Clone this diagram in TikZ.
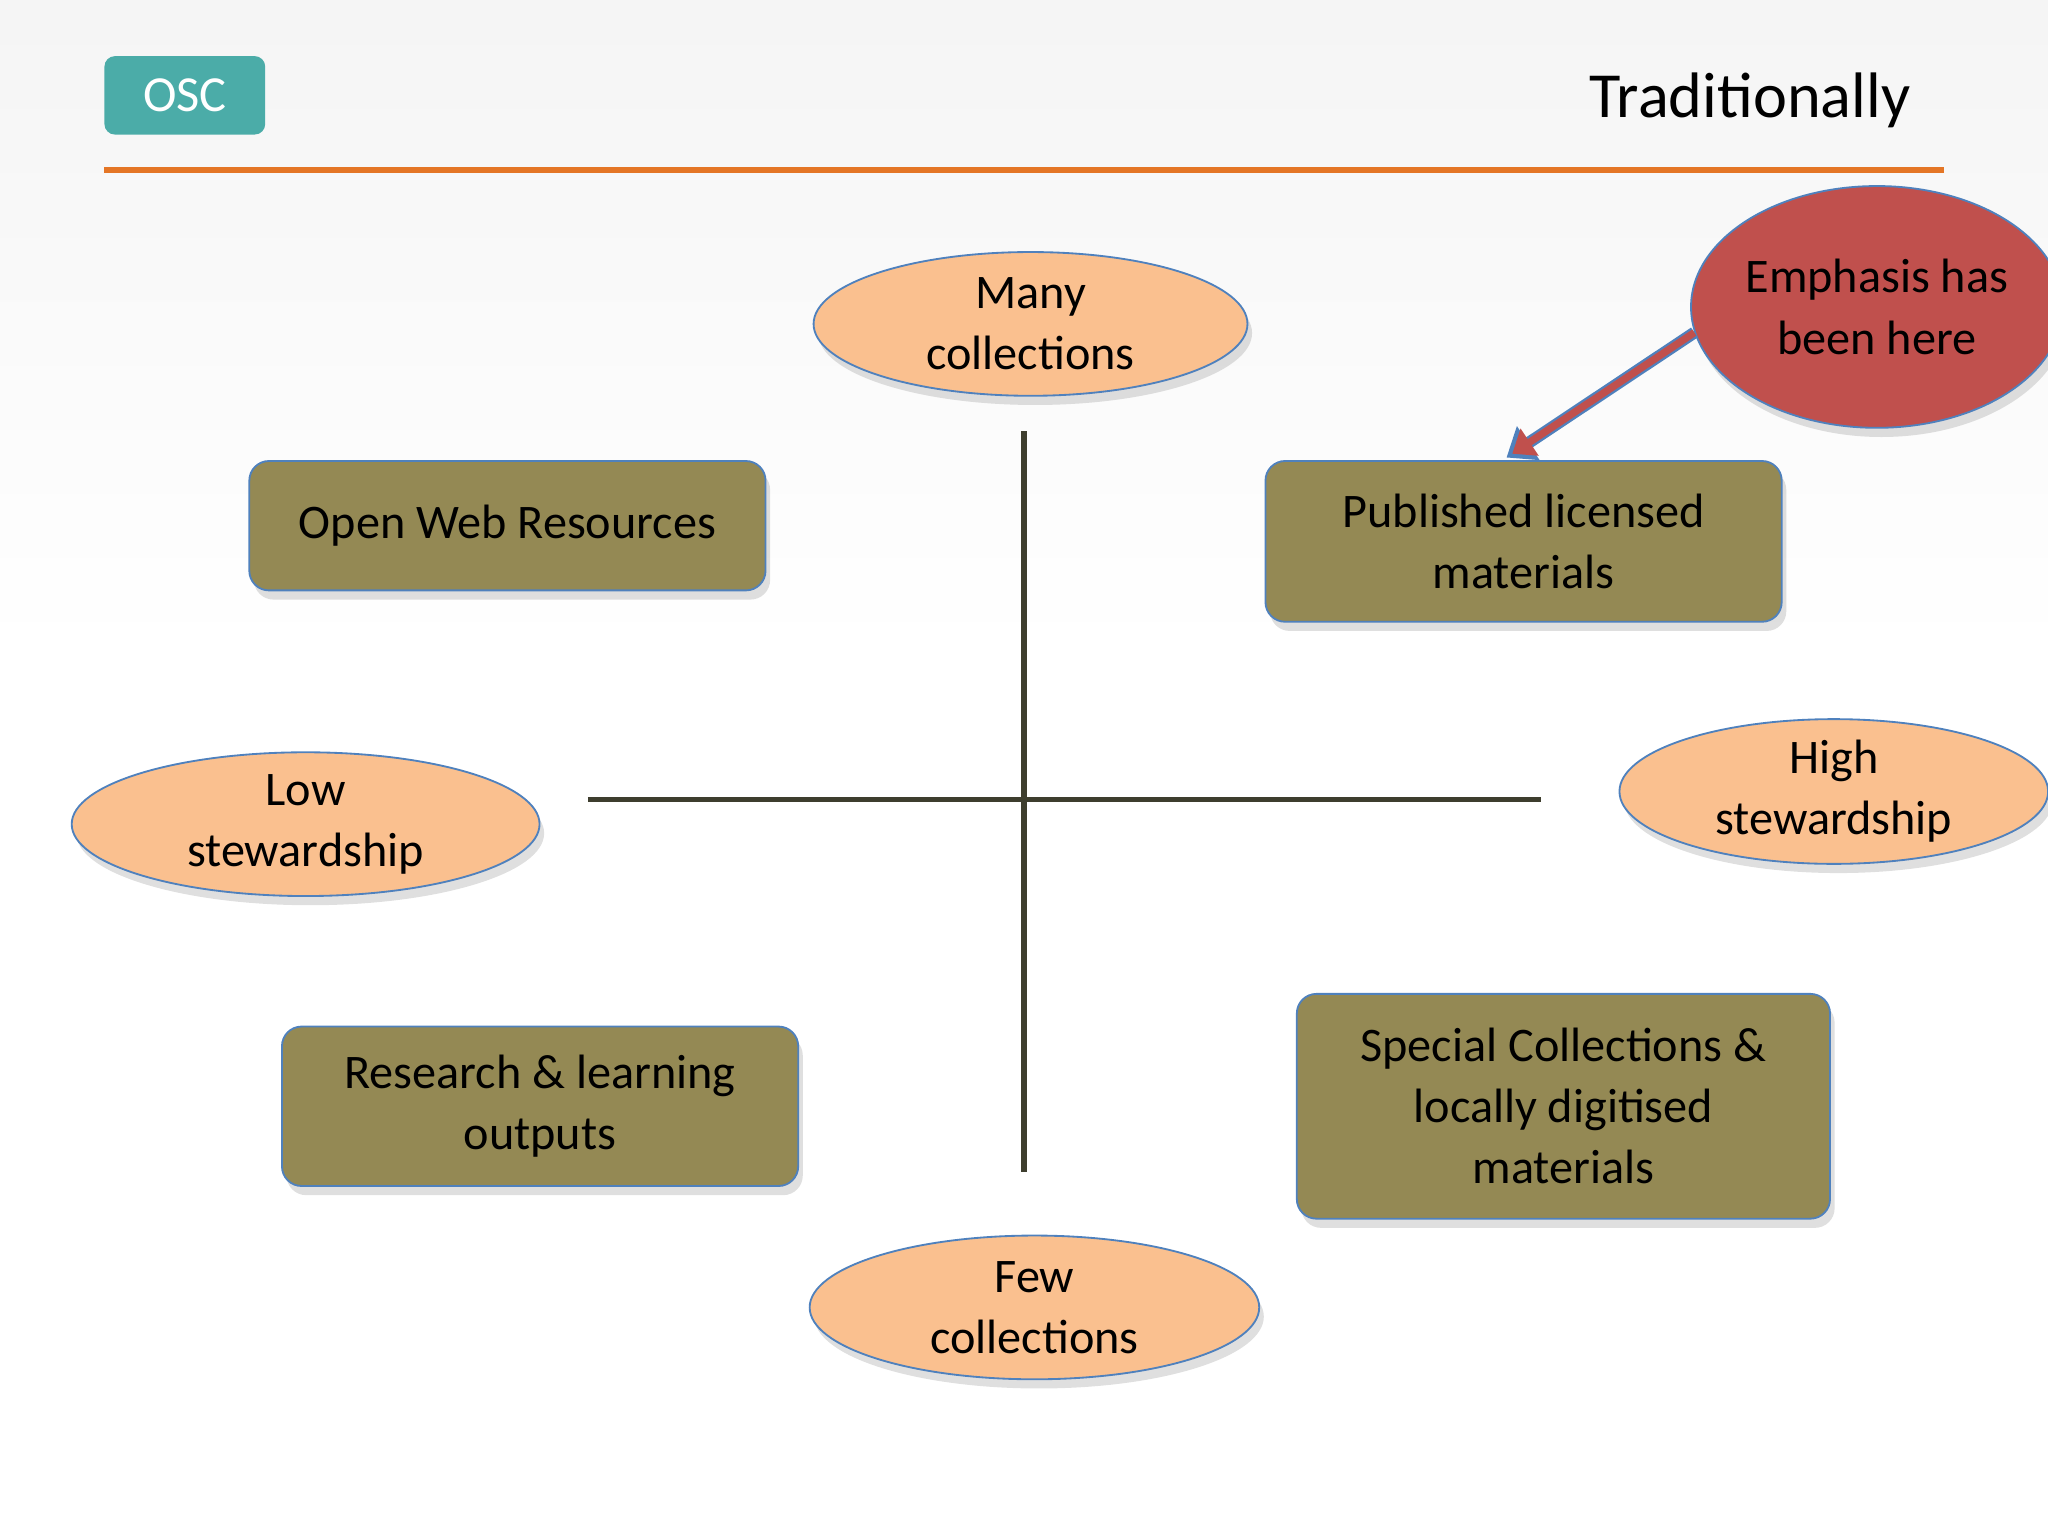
\documentclass[tikz,border=0pt]{standalone}
\usepackage{fontspec}
\setmainfont{Carlito}
\usetikzlibrary{shapes.geometric,arrows.meta,shadows}
\definecolor{teal1}{RGB}{75,172,168}
\definecolor{orng}{RGB}{228,118,38}
\definecolor{peach}{RGB}{250,192,143}
\definecolor{olive}{RGB}{148,137,84}
\definecolor{bord}{RGB}{79,129,189}
\definecolor{redc}{RGB}{192,80,77}
\definecolor{axis}{RGB}{62,62,46}
\begin{document}
\begin{tikzpicture}[x=0.01cm,y=-0.01cm,
  txt/.style={font=\fontsize{10.5}{13.3}\selectfont,align=center,text=black},
  ell/.style={ellipse,draw=bord,fill=peach,thin,txt,inner sep=0pt,drop shadow={opacity=0.25,shadow xshift=1pt,shadow yshift=-2pt}},
  box/.style={rounded corners=0.15cm,draw=bord,fill=olive,thin,txt,inner sep=0pt,drop shadow={opacity=0.25,shadow xshift=1pt,shadow yshift=-2pt}},
  ax/.style={draw=axis,line width=1.1pt}]
\useasboundingbox (0,0) rectangle (1568,1176);
\shade[top color=gray!8,bottom color=white] (0,0) rectangle (1568,500);
\node[fill=teal1,rounded corners=0.08cm,minimum width=1.23cm,minimum height=0.6cm,text=white,font=\fontsize{11}{13}\selectfont] (osc) at (141.5,73) {OSC};
\node[anchor=east,font=\fontsize{14}{16}\selectfont] (title) at (1475,77) {Traditionally};
\coordinate (l1) at (80,130); \coordinate (l2) at (1488,130);
\draw[orng,line width=1.2pt] (l1) -- (l2);
\coordinate (vt) at (784,330); \coordinate (vb) at (784,897);
\coordinate (hl) at (450,612); \coordinate (hr) at (1180,612);
\draw[ax] (vt) -- (vb); \draw[ax] (hl) -- (hr);
\node[ell,minimum width=3.32cm,minimum height=1.1cm] (many) at (789,248) {Many\\collections};
\node[ell,minimum width=3.58cm,minimum height=1.1cm] (low) at (234,631) {Low\\stewardship};
\node[ell,minimum width=3.28cm,minimum height=1.1cm] (high) at (1404,606) {High\\stewardship};
\node[ell,minimum width=3.44cm,minimum height=1.1cm] (few) at (792,1001) {Few\\collections};
\node[box,minimum width=3.95cm,minimum height=0.99cm] (open) at (388.5,402.5) {Open Web Resources};
\node[box,minimum width=3.95cm,minimum height=1.23cm] (pub) at (1166.5,414.5) {Published licensed\\materials};
\node[box,minimum width=3.95cm,minimum height=1.22cm] (res) at (413.5,847) {Research \& learning\\outputs};
\node[box,minimum width=4.08cm,minimum height=1.72cm] (spec) at (1197,847) {Special Collections \&\\locally digitised\\materials};
\node[ellipse,draw=bord,fill=redc,thin,txt,inner sep=0pt,minimum width=2.58cm,minimum height=1.85cm,drop shadow={opacity=0.25,shadow xshift=1pt,shadow yshift=-2pt}] (emph) at (1437,235) {Emphasis has\\been here};
\draw[draw=bord,line width=2.6pt,-{Triangle[length=0.2cm,width=0.3cm]},shorten >=1pt] (emph.188) -- ([xshift=-0.16cm]pub.north);
\draw[draw=redc,line width=1.6pt,-{Triangle[length=0.16cm,width=0.24cm]},shorten >=2.5pt] (emph.188) -- ([xshift=-0.16cm]pub.north);
\end{tikzpicture}
\end{document}
